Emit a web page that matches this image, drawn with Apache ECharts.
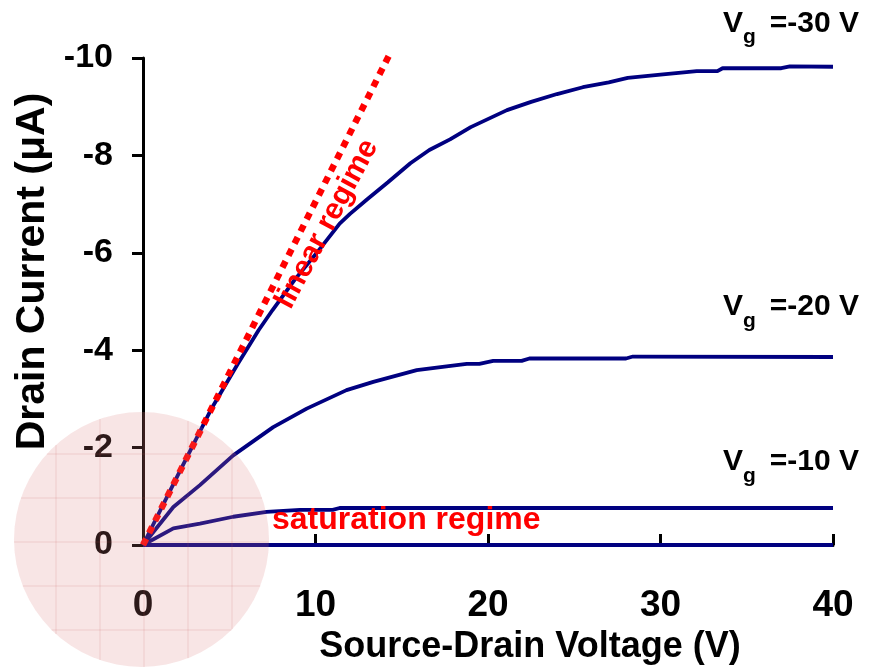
<!DOCTYPE html>
<html><head><meta charset="utf-8">
<script src="https://cdn.jsdelivr.net/npm/echarts@6/dist/echarts.min.js"></script>
<style>html,body{margin:0;padding:0;background:#fff}#c{width:880px;height:670px}</style>
</head><body><div id="c"></div>
<script>
// ---- data ----
const xTicks = [0, 10, 20, 30, 40];
const yTicks = [-10, -8, -6, -4, -2, 0];

const vdsVg30 = [0, 2, 4, 5.5, 6.7, 7.5, 8.8, 10.3, 11.4, 12, 13, 14.2, 15.5, 16.6, 17.8, 19, 21.1, 22.5, 24, 25.5, 27, 28.1, 30, 32.1, 33.3, 33.6, 37, 37.5, 40];
const idVg30  = [0, -1.42, -2.82, -3.72, -4.41, -4.82, -5.45, -6.1, -6.6, -6.8, -7.1, -7.45, -7.84, -8.11, -8.33, -8.58, -8.93, -9.1, -9.26, -9.4, -9.5, -9.59, -9.66, -9.73, -9.73, -9.79, -9.79, -9.83, -9.82];

const vdsVg20 = [0, 1.76, 3.3, 5.23, 7.55, 9.49, 11.8, 13.35, 15.87, 17.6, 18.77, 19.5, 20.3, 21.95, 22.4, 28.0, 28.4, 40];
const idVg20  = [0, -0.78, -1.23, -1.84, -2.42, -2.80, -3.18, -3.35, -3.59, -3.67, -3.72, -3.72, -3.78, -3.78, -3.83, -3.83, -3.87, -3.86];

const vdsVg10 = [0, 1.76, 3.3, 5.23, 7.17, 9.1, 11.0, 11.4, 40];
const idVg10  = [0, -0.34, -0.44, -0.58, -0.68, -0.72, -0.72, -0.76, -0.76];

const vdsVg0 = [0, 40];
const idVg0  = [0, 0];

const vdsLinear = [0, 14.3];
const idLinear  = [0, -10.08];

const gateLabels = ['-30', '-20', '-10'];

// ---- chart ----
const FONT = '"Liberation Sans", Arial, sans-serif';
const NAVY = '#000080';
const RED = '#ff0000';
const pairs = (xs, ys) => xs.map((x, i) => [x, ys[i]]);
const curve = (name, xs, ys) => ({
  name, type: 'line', data: pairs(xs, ys), symbol: 'none', smooth: false,
  lineStyle: { color: NAVY, width: 3.8 }, z: 3
});

const chart = echarts.init(document.getElementById('c'));
chart.setOption({
  animation: false,
  backgroundColor: '#fff',
  grid: { left: 143, right: 47, top: 58, bottom: 125 },
  xAxis: {
    type: 'value', min: xTicks[0], max: xTicks[xTicks.length - 1], interval: xTicks[1] - xTicks[0],
    name: 'Source-Drain Voltage (V)', nameLocation: 'middle', nameGap: 80,
    nameTextStyle: { fontFamily: FONT, fontWeight: 'bold', fontSize: 36, color: '#000', padding: [0, 0, 0, 84] },
    axisLine: { onZero: false, lineStyle: { color: '#000', width: 3 } },
    axisTick: { inside: true, length: 11, lineStyle: { color: '#000', width: 3 } },
    axisLabel: { margin: 42, fontFamily: FONT, fontWeight: 'bold', fontSize: 37, color: '#000' },
    splitLine: { show: false }
  },
  yAxis: {
    type: 'value', inverse: true, min: yTicks[0], max: yTicks[yTicks.length - 1], interval: yTicks[1] - yTicks[0],
    name: 'Drain Current (μA)', nameLocation: 'middle', nameGap: 84,
    nameTextStyle: { fontFamily: FONT, fontWeight: 'bold', fontSize: 41, color: '#000', padding: [0, 0, 0, 60] },
    axisLine: { onZero: false, lineStyle: { color: '#000', width: 3 } },
    axisTick: { inside: false, length: 11, lineStyle: { color: '#000', width: 3 } },
    axisLabel: { margin: 30, fontFamily: FONT, fontWeight: 'bold', fontSize: 34, color: '#000' },
    splitLine: { show: false }
  },
  series: [
    curve('Vg=0', vdsVg0, idVg0),
    curve('Vg=-10', vdsVg10, idVg10),
    curve('Vg=-20', vdsVg20, idVg20),
    curve('Vg=-30', vdsVg30, idVg30),
    {
      name: 'linear', type: 'line', data: pairs(vdsLinear, idLinear), symbol: 'none', clip: false,
      lineStyle: { color: RED, width: 6.5, type: [7, 6.5], cap: 'butt' }, z: 5
    }
  ]
});

// ---- annotations and the magnifier-like circle ----
const o = chart.convertToPixel({ gridIndex: 0 }, [0, 0]);
const cx = o[0] - 1.5, cy = o[1] - 5.5, R = 127.5;
const graphics = [];
graphics.push({ type: 'circle', shape: { cx, cy, r: R }, style: { fill: 'rgba(220,125,125,0.2)' }, z: 100, silent: true });
for (let k = -2; k <= 2; k++) {
  const d = k * 44 + 2.5;
  const h = Math.sqrt(R * R - d * d);
  graphics.push({ type: 'line', shape: { x1: cx + d, y1: cy - h, x2: cx + d, y2: cy + h }, style: { stroke: 'rgba(200,90,90,0.12)', lineWidth: 1.5 }, z: 101, silent: true });
  graphics.push({ type: 'line', shape: { x1: cx - h, y1: cy + d, x2: cx + h, y2: cy + d }, style: { stroke: 'rgba(200,90,90,0.12)', lineWidth: 1.5 }, z: 101, silent: true });
}
const gateY = [23.5, 307, 462];
gateLabels.forEach((g, i) => {
  const y = gateY[i];
  graphics.push({ type: 'text', x: 723, y: y, style: { text: 'V', font: 'bold 30px ' + FONT, fill: '#000', align: 'left', verticalAlign: 'middle' }, z: 50 });
  graphics.push({ type: 'text', x: 743, y: y + 14, style: { text: 'g', font: 'bold 21px ' + FONT, fill: '#000', align: 'left', verticalAlign: 'middle' }, z: 50 });
  graphics.push({ type: 'text', x: 859, y: y, style: { text: '=' + g + ' V', font: 'bold 30px ' + FONT, fill: '#000', align: 'right', verticalAlign: 'middle' }, z: 50 });
});
graphics.push({ type: 'text', x: 327, y: 224, rotation: 62 * Math.PI / 180,
  style: { text: 'linear regime', font: 'bold 30px ' + FONT, fill: RED, align: 'center', verticalAlign: 'middle' }, z: 50 });
graphics.push({ type: 'text', x: 272, y: 520,
  style: { text: 'saturation regime', font: 'bold 32px ' + FONT, fill: RED, align: 'left', verticalAlign: 'middle' }, z: 50 });
chart.setOption({ graphic: graphics });
</script>
</body></html>
